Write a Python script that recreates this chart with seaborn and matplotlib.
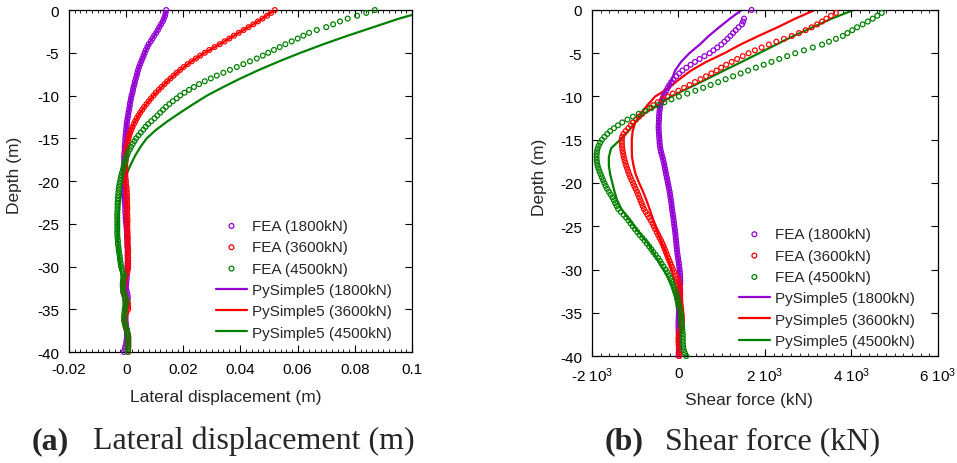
import numpy as np
import matplotlib
matplotlib.use('Agg')
import matplotlib.pyplot as plt
import seaborn as sns
from matplotlib.ticker import AutoMinorLocator, FixedLocator

# ---------------- data ----------------
depth_fea = np.linspace(0, -40, 121)       # FEA nodes every 1/3 m
depth_ps = np.linspace(0, -40, 41)         # PySimple5 nodes every 1 m

loads = ['1800kN', '3600kN', '4500kN']
colors = ['#9400D3', '#FF0000', '#008000']
nan = np.nan

disp_fea_1800 = [
    0.0140, 0.0138, 0.0136, 0.0132, 0.0128, 0.0122, 0.0116, 0.0111, 0.0105, 0.0098, 0.0092, 0.0086, 0.0079, 0.0074, 0.0069,
    0.0065, 0.0061, 0.0057, 0.0053, 0.0049, 0.0045, 0.0042, 0.0039, 0.0037, 0.0034, 0.0031, 0.0029, 0.0026, 0.0024, 0.0022,
    0.0019, 0.0017, 0.0015, 0.0013, 0.0012, 0.0010, 0.0008, 0.0007, 0.0005, 0.0003, 0.0002, 0.0001, 0.0000, -0.0001, -0.0002,
    -0.0003, -0.0003, -0.0004, -0.0005, -0.0005, -0.0006, -0.0007, -0.0007, -0.0007, -0.0007, -0.0007, -0.0007, -0.0007, -0.0007, -0.0007,
    -0.0007, -0.0007, -0.0006, -0.0006, -0.0006, -0.0005, -0.0005, -0.0005, -0.0004, -0.0003, -0.0003, -0.0003, -0.0002, -0.0002, -0.0001,
    0.0000, 0.0001, 0.0002, 0.0003, 0.0003, 0.0003, 0.0004, 0.0004, 0.0004, 0.0005, 0.0005, 0.0005, 0.0005, 0.0005, 0.0005,
    0.0004, 0.0004, 0.0003, 0.0002, 0.0002, 0.0001, 0.0000, -0.0001, 0.0000, 0.0003, 0.0005, 0.0006, 0.0005, 0.0004, 0.0002,
    0.0001, 0.0000, -0.0002, -0.0002, -0.0002, -0.0001, 0.0000, 0.0001, 0.0003, 0.0003, 0.0003, 0.0001, 0.0000, -0.0003, -0.0005,
    -0.0008]
disp_fea_3600 = [
    0.0520, 0.0507, 0.0493, 0.0477, 0.0461, 0.0445, 0.0428, 0.0411, 0.0394, 0.0377, 0.0361, 0.0344, 0.0327, 0.0309, 0.0291,
    0.0275, 0.0259, 0.0244, 0.0229, 0.0215, 0.0201, 0.0189, 0.0177, 0.0166, 0.0155, 0.0144, 0.0134, 0.0124, 0.0114, 0.0104,
    0.0096, 0.0087, 0.0079, 0.0071, 0.0063, 0.0056, 0.0049, 0.0043, 0.0037, 0.0032, 0.0027, 0.0022, 0.0018, 0.0014, 0.0011,
    0.0008, 0.0006, 0.0004, 0.0002, 0.0001, -0.0001, -0.0001, -0.0001, -0.0002, -0.0003, -0.0003, -0.0003, -0.0003, -0.0003, -0.0002,
    -0.0001, -0.0001, 0.0001, 0.0002, 0.0002, 0.0003, 0.0003, 0.0003, 0.0003, 0.0004, 0.0004, 0.0003, 0.0004, 0.0004, 0.0005,
    0.0004, 0.0004, 0.0004, 0.0005, 0.0005, 0.0006, 0.0005, 0.0005, 0.0006, 0.0007, 0.0007, 0.0006, 0.0007, 0.0007, 0.0007,
    0.0007, 0.0006, 0.0004, 0.0000, -0.0004, -0.0007, -0.0009, -0.0010, -0.0010, -0.0010, -0.0007, -0.0003, 0.0003, 0.0006, 0.0007,
    0.0007, 0.0001, -0.0003, -0.0006, -0.0006, -0.0004, -0.0002, 0.0001, 0.0004, 0.0007, 0.0008, 0.0008, 0.0008, 0.0008, 0.0007,
    0.0007]
disp_fea_4500 = [
    0.0870, 0.0840, 0.0808, 0.0775, 0.0748, 0.0724, 0.0700, 0.0667, 0.0640, 0.0620, 0.0600, 0.0579, 0.0557, 0.0537, 0.0517,
    0.0497, 0.0478, 0.0457, 0.0433, 0.0410, 0.0387, 0.0363, 0.0340, 0.0317, 0.0296, 0.0275, 0.0255, 0.0237, 0.0220, 0.0204,
    0.0189, 0.0177, 0.0163, 0.0151, 0.0139, 0.0129, 0.0119, 0.0109, 0.0099, 0.0088, 0.0077, 0.0068, 0.0060, 0.0051, 0.0043,
    0.0035, 0.0029, 0.0023, 0.0017, 0.0012, 0.0007, 0.0003, -0.0001, -0.0003, -0.0006, -0.0009, -0.0011, -0.0014, -0.0017, -0.0019,
    -0.0021, -0.0023, -0.0025, -0.0026, -0.0027, -0.0028, -0.0029, -0.0029, -0.0030, -0.0030, -0.0030, -0.0031, -0.0031, -0.0031, -0.0031,
    -0.0031, -0.0031, -0.0031, -0.0031, -0.0031, -0.0030, -0.0029, -0.0029, -0.0027, -0.0026, -0.0025, -0.0023, -0.0022, -0.0021, -0.0019,
    -0.0018, -0.0015, -0.0011, -0.0007, -0.0009, -0.0011, -0.0012, -0.0012, -0.0011, -0.0010, -0.0006, -0.0002, 0.0001, -0.0001, -0.0003,
    -0.0005, -0.0006, -0.0007, -0.0007, -0.0007, -0.0005, -0.0002, 0.0002, 0.0004, 0.0006, 0.0007, 0.0007, 0.0007, 0.0007, 0.0006,
    0.0006]

disp_ps_1800 = [0.0140, 0.0132, 0.0116, 0.0098, 0.0079, 0.0065, 0.0053, 0.0042, 0.0034, 0.0026,
                0.0019, 0.0013, 0.0008, 0.0003, 0.0000, -0.0003, -0.0005, -0.0007, -0.0007, -0.0007,
                -0.0007, -0.0006, -0.0005, -0.0004, -0.0003, -0.0002, -0.0001, 0.0000, 0.0000, 0.0000,
                0.0000, 0.0000, 0.0000, 0.0000, 0.0000, 0.0000, 0.0000, 0.0000, 0.0000, 0.0000,
                0.0000]
disp_ps_3600 = [0.0520, 0.0477, 0.0428, 0.0377, 0.0327, 0.0275, 0.0229, 0.0189, 0.0155, 0.0124,
                0.0096, 0.0071, 0.0049, 0.0032, 0.0018, 0.0008, 0.0002, -0.0001, -0.0003, -0.0003,
                -0.0002, -0.0001, 0.0000, 0.0001, 0.0002, 0.0002, 0.0002, 0.0002, 0.0002, 0.0002,
                0.0002, 0.0001, 0.0001, 0.0001, 0.0001, 0.0000, 0.0000, 0.0000, 0.0000, 0.0000,
                0.0000]
disp_ps_4500 = [0.1060, 0.0955, 0.0865, 0.0775, 0.0690, 0.0610, 0.0535, 0.0465, 0.0400, 0.0340,
                0.0283, 0.0235, 0.0189, 0.0145, 0.0105, 0.0072, 0.0050, 0.0032, 0.0017, 0.0004,
                -0.0006, -0.0014, -0.0020, -0.0025, -0.0028, -0.0030, -0.0030, -0.0029, -0.0027, -0.0024,
                -0.0020, -0.0017, -0.0014, -0.0012, -0.0010, -0.0007, -0.0005, -0.0003, -0.0002, -0.0001,
                0.0000]

shear_fea_1800 = [
    1690, nan, nan, 1515, 1495, 1467, 1390, 1323, 1260, 1200, 1133, 1063, 990, 897, 807,
    720, 600, 487, 380, 280, 183, 90, 17, -53, -120, -167, -210, -250, -283, -317,
    -350, -377, -400, -420, -430, -438, -445, -449, -451, -455, -459, -459, -455, -451, -447,
    -440, -437, -430, -420, -407, -390, -370, -354, -338, -325, -312, -298, -285, -272, -258,
    -245, -232, -218, -205, -195, -185, -175, -165, -157, -150, -140, -130, -120, -110, -102,
    -95, -85, -77, -70, -63, -57, -50, -43, -37, -30, -20, -10, 0, 10, 17,
    25, 32, 37, 40, 40, 39, 35, 31, 29, 25, 21, 19, 15, 11, 10,
    10, 7, 3, 0, 0, 0, 0, 3, 7, 10, 10, 10, 10, 7, 3,
    0]
shear_fea_3600 = [
    nan, 3640, 3527, 3420, 3320, 3207, 3080, 2940, 2787, 2620, 2440, 2263, 2090, 1923, 1767,
    1620, 1487, 1357, 1230, 1103, 987, 880, 760, 637, 510, 383, 257, 130, -3, -130,
    -250, -370, -480, -580, -673, -760, -840, -913, -983, -1050, -1103, -1160, -1220, -1273, -1303,
    -1310, -1310, -1307, -1300, -1290, -1278, -1265, -1248, -1230, -1210, -1186, -1164, -1140, -1113, -1083,
    -1050, -1023, -993, -960, -933, -907, -880, -853, -827, -800, -760, -720, -680, -640, -603,
    -570, -537, -503, -470, -437, -403, -370, -343, -317, -290, -263, -237, -210, -183, -157,
    -130, -97, -63, -30, -3, 17, 30, 37, 40, 40, 40, 43, 50, 57, 63,
    70, 77, 80, 80, 73, 60, 40, 20, 7, 0, 0, 3, 10, 17, 20,
    20]
shear_fea_4500 = [
    nan, 4700, 4597, 4490, 4377, 4257, 4130, 4017, 3907, 3800, 3640, 3480, 3320, 3107, 2900,
    2700, 2513, 2330, 2150, 1970, 1790, 1610, 1437, 1263, 1090, 917, 743, 570, 390, 203,
    10, -163, -327, -480, -627, -773, -920, -1053, -1180, -1300, -1400, -1493, -1580, -1647, -1710,
    -1770, -1810, -1843, -1870, -1883, -1892, -1895, -1892, -1883, -1870, -1850, -1827, -1800, -1773, -1745,
    -1715, -1685, -1650, -1610, -1570, -1530, -1495, -1462, -1428, -1395, -1333, -1270, -1210, -1157, -1107,
    -1060, -1007, -953, -900, -840, -783, -730, -677, -627, -580, -527, -477, -430, -390, -347,
    -300, -260, -223, -190, -163, -137, -110, -90, -67, -40, -20, -3, 10, 23, 37,
    50, 57, 63, 70, 77, 83, 90, 97, 100, 100, 100, 103, 110, 123, 147,
    180]

shear_ps_1800 = [1460, 1190, 940, 700, 490, 250, 60, -80, -150, -250,
                 -370, -420, -445, -455, -455, -440, -420, -370, -325, -285,
                 -245, -205, -175, -150, -120, -95, -70, -50, -30, 0,
                 20, 30, 30, 25, 20, 15, 10, 5, 5, 0,
                 0]
shear_ps_3600 = [3150, 2700, 2290, 1850, 1430, 1060, 640, 290, 20, -220,
                 -540, -720, -870, -1000, -1060, -1080, -1080, -1075, -1040, -990,
                 -910, -820, -740, -670, -600, -530, -460, -380, -300, -230,
                 -160, -110, -70, -40, -20, 0, 0, 0, 0, 0,
                 0]
shear_ps_4500 = [4050, 3540, 3100, 2660, 2260, 1860, 1460, 1050, 650, 240,
                 -170, -470, -800, -1000, -1160, -1350, -1560, -1610, -1610, -1580,
                 -1530, -1480, -1420, -1320, -1170, -1020, -870, -700, -590, -470,
                 -350, -240, -150, -90, -50, -20, 0, 10, 10, 0,
                 0]

disp_xticks = [-0.02, 0, 0.02, 0.04, 0.06, 0.08, 0.1]
disp_xticklabels = ['-0.02', '0', '0.02', '0.04', '0.06', '0.08', '0.1']
shear_xticks = [-2000, 0, 2000, 4000, 6000]
shear_xticklabels = ['-2 10$^{3}$', '0', '2 10$^{3}$', '4 10$^{3}$', '6 10$^{3}$']
yticks = [0, -5, -10, -15, -20, -25, -30, -35, -40]

# ---------------- style ----------------
sns.set_style('ticks')
plt.rcParams['font.family'] = ['Liberation Sans', 'DejaVu Sans']
plt.rcParams['mathtext.default'] = 'regular'

fig = plt.figure(figsize=(9.57, 4.64), dpi=100)
ax1 = fig.add_axes([0.0721, 0.2392, 0.3584, 0.7370])
ax2 = fig.add_axes([0.6186, 0.2306, 0.3615, 0.7457])


def draw(ax, fea_list, ps_list):
    for vals, col, ld in zip(ps_list, colors, loads):
        sns.lineplot(x=vals, y=depth_ps, ax=ax, sort=False, estimator=None,
                     color=col, linewidth=1.6, label=f'PySimple5 ({ld})', zorder=2)
    for vals, col, ld in zip(fea_list, colors, loads):
        sns.scatterplot(x=vals, y=depth_fea, ax=ax, marker='o', s=12,
                        facecolor='none', edgecolor=col, linewidth=0.9,
                        label=f'FEA ({ld})', zorder=3, clip_on=False)


draw(ax1, [disp_fea_1800, disp_fea_3600, disp_fea_4500],
     [disp_ps_1800, disp_ps_3600, disp_ps_4500])
draw(ax2, [shear_fea_1800, shear_fea_3600, shear_fea_4500],
     [shear_ps_1800, shear_ps_3600, shear_ps_4500])

for ax, xt, xtl, xl in [(ax1, disp_xticks, disp_xticklabels, (-0.02, 0.1)),
                        (ax2, shear_xticks, shear_xticklabels, (-2000, 6000))]:
    ax.set_xlim(*xl)
    ax.set_ylim(-40, 0)
    ax.xaxis.set_major_locator(FixedLocator(xt))
    ax.set_xticklabels(xtl)
    ax.xaxis.set_minor_locator(AutoMinorLocator(10))
    ax.yaxis.set_major_locator(FixedLocator(yticks))
    ax.set_yticklabels([str(v) for v in yticks])
    ax.tick_params(which='both', direction='in', top=True, right=True,
                   colors='black', labelsize=11)
    ax.tick_params(which='major', length=5, width=0.8)
    ax.tick_params(which='minor', length=2.5, width=0.6)
    ax.tick_params(axis='x', pad=7)
    ax.tick_params(axis='y', pad=7)
    for sp in ax.spines.values():
        sp.set_linewidth(0.9)
        sp.set_color('black')
        sp.set_visible(True)
    ax.set_ylabel('Depth (m)', fontsize=12.5)

ax1.set_xlabel('Lateral displacement (m)', fontsize=12.5)
ax2.set_xlabel('Shear force (kN)', fontsize=12.5)
ax1.xaxis.set_label_coords(0.458, -0.108)
ax2.xaxis.set_label_coords(0.454, -0.104)
ax1.yaxis.set_label_coords(-0.137, 0.52)
ax2.yaxis.set_label_coords(-0.130, 0.52)

order = ['FEA (1800kN)', 'FEA (3600kN)', 'FEA (4500kN)',
         'PySimple5 (1800kN)', 'PySimple5 (3600kN)', 'PySimple5 (4500kN)']
for ax, anchor in [(ax1, (0.4096, 0.526)), (ax2, (0.956, 0.508))]:
    h, l = ax.get_legend_handles_labels()
    hd = dict(zip(l, h))
    ax.legend([hd[k] for k in order], order, loc='upper right',
              bbox_to_anchor=anchor, bbox_transform=fig.transFigure,
              frameon=False, fontsize=11, borderpad=0, borderaxespad=0,
              handlelength=2.0, handletextpad=0.35, labelspacing=0.48,
              scatterpoints=1)

cap_font = ['Liberation Serif', 'DejaVu Serif']
y_cap = 1 - 449 / 464
fig.text(32 / 957, y_cap, '(a)', family=cap_font, fontsize=23, fontweight='bold', va='baseline')
fig.text(93 / 957, y_cap, 'Lateral displacement (m)', family=cap_font, fontsize=23, va='baseline')
fig.text(605 / 957, y_cap, '(b)', family=cap_font, fontsize=23, fontweight='bold', va='baseline')
fig.text(665 / 957, y_cap, 'Shear force (kN)', family=cap_font, fontsize=23, va='baseline')

fig.savefig('out.png', dpi=100)
